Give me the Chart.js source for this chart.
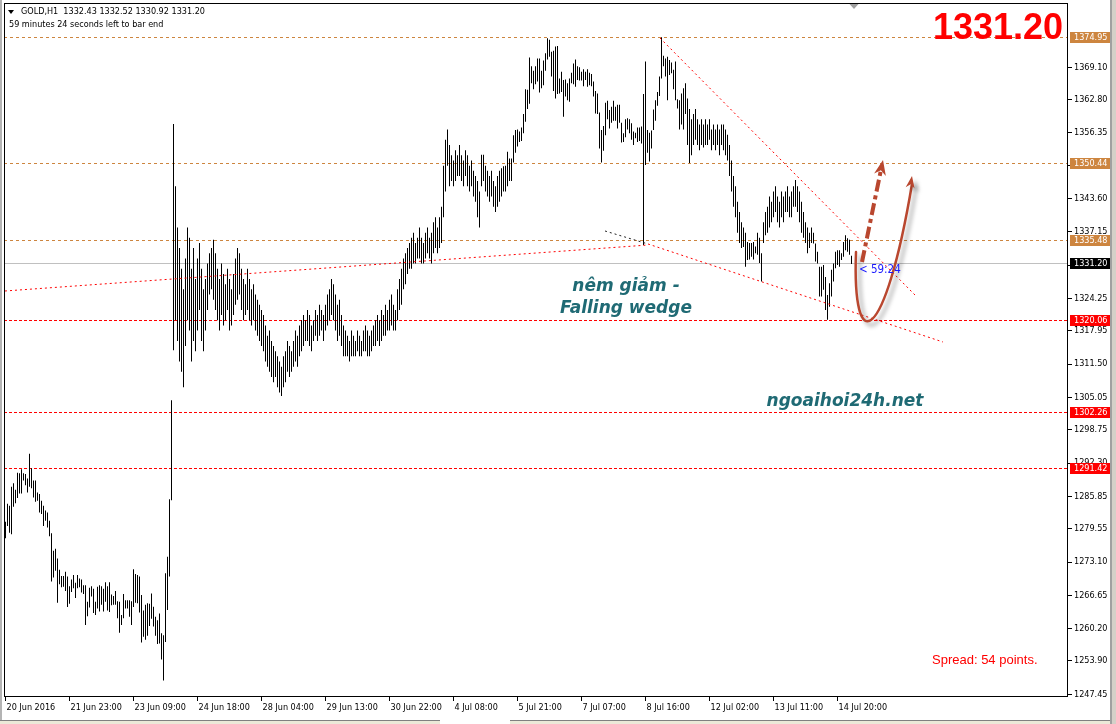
<!DOCTYPE html>
<html>
<head>
<meta charset="utf-8">
<script src="https://cdn.jsdelivr.net/npm/chart.js@4.4.1/dist/chart.umd.min.js"></script>
<style>
html,body{margin:0;padding:0;background:#fff;}
#wrap{position:relative;width:1116px;height:724px;overflow:hidden;background:#fff;}
#c{position:absolute;left:0;top:0;}
.mt{position:absolute;white-space:pre;font-family:"DejaVu Sans Condensed","DejaVu Sans",sans-serif;font-size:9px;line-height:1;color:#000;}
.big{position:absolute;white-space:pre;font-family:"Liberation Sans",Arial,sans-serif;font-weight:bold;font-size:36px;line-height:1;color:#ff0000;}
.note{position:absolute;white-space:pre;font-family:"DejaVu Sans",sans-serif;font-weight:bold;font-style:italic;font-size:17px;line-height:1;color:#1f6a74;text-align:center;width:240px;}
.spread{position:absolute;white-space:pre;font-family:"Liberation Sans",Arial,sans-serif;font-size:13px;line-height:1;color:#ff0000;}
.tri{position:absolute;left:8px;top:10px;width:0;height:0;border-left:3.5px solid transparent;border-right:3.5px solid transparent;border-top:4.5px solid #000;}
.edge{position:absolute;}
</style>
</head>
<body>
<div id="wrap">
<canvas id="c" width="1116" height="724"></canvas>
<div class="tri"></div>
<div class="mt" style="left:21px;top:7px;">GOLD,H1  1332.43 1332.52 1330.92 1331.20</div>
<div class="mt" style="left:9px;top:20px;">59 minutes 24 seconds left to bar end</div>
<div class="big" style="left:933px;top:9px;">1331.20</div>
<div class="note" style="left:506px;top:277px;">nêm giảm -</div>
<div class="note" style="left:506px;top:299px;">Falling wedge</div>
<div class="note" style="left:725px;top:392px;">ngoaihoi24h.net</div>
<div class="mt" style="left:859px;top:264px;font-size:11.5px;color:#1a1aff;">&lt; 59:24</div>
<div class="spread" style="left:932px;top:653px;">Spread: 54 points.</div>
<div class="edge" style="left:0;top:0;width:2px;height:724px;background:#b4b4b4;"></div>
<div class="edge" style="left:1110px;top:0;width:2px;height:724px;background:#a0a0a0;"></div>
<div class="edge" style="left:1112px;top:0;width:4px;height:724px;background:#d4d0c8;"></div>
<div class="edge" style="left:0;top:720px;width:440px;height:4px;background:#ece9d8;border-top:1px solid #808080;"></div>
<div class="edge" style="left:510px;top:720px;width:600px;height:4px;background:#ece9d8;border-top:1px solid #808080;"></div>
</div>
<script>
// x axis labels, one every 32 hourly bars
const xTickLabels = ["20 Jun 2016","21 Jun 23:00","23 Jun 09:00","24 Jun 18:00","28 Jun 04:00","29 Jun 13:00","30 Jun 22:00","4 Jul 08:00","5 Jul 21:00","7 Jul 07:00","8 Jul 16:00","12 Jul 02:00","13 Jul 11:00","14 Jul 20:00"];
const xTickStep = 32;
const yTickValues = [1247.45,1253.90,1260.20,1266.65,1273.10,1279.55,1285.85,1292.30,1298.75,1305.05,1311.50,1317.95,1324.25,1330.70,1337.15,1343.60,1350.05,1356.35,1362.80,1369.10];

// GOLD H1 bars: high / low
const barHighs = [
1280.9,1284.4,1284.0,1287.7,1288.4,1287.1,1290.4,1290.3,1291.1,1290.3,
1290.2,1289.3,1294.1,1291.3,1288.9,1288.9,1286.6,1286.3,1285.0,1284.0,
1283.1,1282.7,1281.1,1278.7,1275.3,1275.7,1273.8,1271.6,1270.4,1270.4,
1271.2,1270.3,1268.4,1269.7,1270.6,1269.1,1270.6,1269.9,1269.7,1268.6,
1268.6,1265.4,1268.1,1268.4,1267.9,1265.4,1268.3,1268.6,1268.4,1267.9,
1269.2,1268.4,1269.2,1266.8,1266.5,1267.5,1265.5,1265.4,1262.8,1266.9,
1265.7,1265.7,1265.7,1265.5,1271.7,1270.8,1270.6,1270.3,1266.7,1263.7,
1264.8,1265.1,1265.0,1267.0,1264.4,1262.5,1261.8,1263.1,1259.3,1258.9,
1270.9,1274.1,1285.3,1304.5,1358.1,1346,1338,1334,1330,1326,
1332,1338,1336,1330,1334,1328,1332,1335,1330,1326,
1328,1331,1333,1334,1335.6,1333,1330,1328,1331,1329,
1327,1330,1328,1326,1329,1332,1334,1333,1330,1328,
1327,1330,1328,1326,1327,1325,1324,1323,1322,1321,
1319,1317,1318,1316,1315,1314,1313,1312,1311,1313,
1314,1316,1315,1314,1316,1318,1317,1319,1320,1321,
1320,1322,1321,1319,1320,1322,1321,1323,1322,1321,
1323,1325,1326,1328,1327,1325,1323,1324,1321,1319,
1318,1317,1316,1318,1317,1316,1318,1317,1316,1318,
1319,1318,1317,1318,1319,1320,1321,1320,1322,1321,
1323,1322,1324,1325,1323,1322,1326,1328,1330,1332,
1333,1334,1335,1336,1337,1335,1336,1338,1336,1335,
1337,1338,1336,1337,1339,1340,1338,1340,1342,1350,
1355,1357,1354,1352,1351,1353,1352,1354,1352,1351,
1353,1352,1350,1351,1349,1348,1347,1345,1352.1,1352.1,
1350,1349,1348,1349,1347,1346,1348,1349,1349.5,1349.9,
1350,1352.7,1351.4,1351.4,1355.9,1356.9,1357.0,1356.6,1357.4,1360.0,
1364.8,1364.7,1371.0,1369.3,1368.4,1369.3,1370.8,1370.8,1368.4,1370.4,
1371.8,1374.7,1374.4,1372.1,1372.3,1373.1,1373.2,1366.9,1368.2,1366.6,
1366.7,1366.0,1366.9,1368.0,1369.8,1370.6,1369.3,1369.1,1368.2,1368.7,
1368.2,1368.7,1368.0,1367.8,1366.3,1364.5,1364.0,1360.3,1356.9,1357.7,
1362.2,1362.6,1360.8,1361.4,1362.6,1361.4,1361.8,1361.8,1358.3,1356.3,
1359.0,1359.2,1359.0,1358.2,1356.6,1356.4,1357.4,1357.4,1357.6,1363.9,
1370.2,1356.9,1356.4,1356.8,1360.9,1362.7,1364.3,1367.3,1374.9,1371.3,
1370.8,1371.1,1370.5,1370.0,1368.6,1370.2,1362.9,1362.7,1364,1365,
1366,1363,1361,1359,1360,1361,1359,1358,1359,1358,
1359,1358,1359,1357,1358,1357,1358,1357,1358,1358,
1357,1356,1354,1351,1348,1346,1343,1341,1339,1338,
1337,1335.2,1335.0,1335.0,1335.2,1334.3,1337,1336,1333.0,1339,
1341,1342,1344,1343,1345,1346,1344,1343,1345,1344,
1345,1346,1344,1345,1346,1347.2,1346,1345,1343,1341,
1339,1338,1337,1338,1337,1334.9,1333.3,1330.4,1330.4,1330.7,
1328.4,1324.9,1327.2,1329.8,1331.0,1333.3,1333.6,1333.6,1333.0,1335.2,
1336.5,1335.9,1335.6,1332.5
];
const barLows = [
1277.7,1280.1,1278.8,1278.5,1283.8,1284.5,1285.5,1286.4,1286.4,1288.9,
1288.0,1286.6,1287.7,1287.4,1285.6,1284.8,1285.0,1282.7,1282.4,1280.1,
1281.1,1279.8,1278.1,1269.3,1270.1,1271.4,1265.2,1268.8,1268.2,1268.3,
1267.5,1264.4,1265.0,1267.3,1268.0,1266.1,1268.0,1268.2,1267.2,1266.9,
1260.9,1262.6,1264.3,1266.4,1263.2,1262.8,1264.1,1263.5,1264.8,1263.5,
1265.4,1263.7,1263.4,1264.7,1264.8,1264.8,1262.2,1259.4,1260.9,1262.2,
1264.1,1264.1,1262.5,1260.9,1264.4,1265.2,1265.1,1263.3,1257.5,1258.6,
1258.0,1258.8,1260.7,1262.1,1260.6,1258.8,1257.2,1257.3,1254.2,1250.1,
1257.6,1263.8,1270.3,1285.1,1314.2,1320,1316,1312,1310,1307,
1315,1320,1318,1312,1316,1314,1318,1322,1316,1314,
1318,1322,1325,1326,1324,1322,1320,1318,1321,1319,
1320,1322,1318,1319,1321,1323,1324,1325,1322,1320,
1321,1322,1320,1319,1320,1318,1317,1316,1315,1314,
1312,1311,1310,1309,1308,1309,1307,1306,1305.3,1307,
1308,1310,1309,1310,1311,1312,1311,1313,1314,1315,
1316,1316,1315,1314,1316,1317,1316,1317,1318,1316,
1318,1319,1320,1321,1320,1318,1316,1317,1315,1313,
1313,1313,1312,1313,1313,1313,1314,1313,1313,1314,
1314,1313,1313,1314,1315,1315,1316,1315,1316,1317,
1317,1318,1318,1319,1318,1318,1320,1322,1323,1326,
1327,1329,1330,1330,1331,1331,1332,1332,1331,1331,
1332,1333,1332,1331,1333,1334,1333,1334,1335,1340,
1345,1350,1346,1347,1346,1347,1348,1348,1347,1346,
1348,1346,1345,1346,1344,1343,1340,1338,1346,1347,
1345,1344,1343,1344,1342,1341,1342,1343,1344,1345,
1345,1346,1347,1347,1350.6,1352.5,1353.7,1354.6,1354.8,1356.3,
1358.5,1361.0,1362.0,1366.0,1364.8,1365.8,1366.3,1364.2,1365.0,1365.6,
1368.4,1370.6,1371.1,1367.3,1364.5,1363.0,1363.9,1364.0,1364.3,1359.5,
1363.4,1362.7,1362.4,1366.0,1365.8,1365.3,1366.6,1366.5,1366.5,1365.4,
1366.6,1365.3,1365.6,1365.4,1363.4,1360.1,1360.0,1353.3,1350.6,1352.9,
1355.9,1359.0,1357.2,1358.3,1358.7,1358.7,1357.2,1358.3,1354.5,1354.6,
1355.5,1357.0,1356.3,1355.0,1354.0,1355.3,1354.6,1354.8,1354.3,1334.6,
1350.1,1352.5,1350.8,1353.3,1356.9,1358.7,1361.6,1363.5,1366.9,1369.3,
1367.3,1362.7,1367.6,1367.9,1364.8,1362.7,1361.1,1357.0,1358,1357,
1360,1354,1350.5,1352,1354,1355,1354,1353,1354,1353.5,
1354,1354,1355,1353,1354,1353,1354,1352,1354,1353,
1352,1351,1348,1345,1342,1340,1337,1335,1334,1334.2,
1330.4,1331.7,1331.8,1332.3,1331.8,1333.0,1332.7,1331.1,1327.5,1335.0,
1336.5,1337,1338,1339,1340,1341,1339,1338,1340,1339,
1341,1341,1340,1340,1342,1342,1341,1339,1337,1336,
1335,1333,1334,1335,1334.9,1331.4,1331.0,1324.6,1324.6,1325.9,
1322.0,1320.1,1322.6,1324.6,1327.5,1330.1,1330.7,1330.4,1331.7,1332.3,
1333.6,1333.3,1332.7,1330.9
];

// horizontal levels drawn on the chart
const resistancePrices = [1374.95,1350.44,1335.48];
const supportPrices = [1320.06,1302.26,1291.42];
const bidPrice = 1331.20;

// trend lines (bar index, price)
const trendFromX = [-0.25, 327.25, 321.25, 299.75];
const trendFromY = [1325.68, 1374.76, 1334.80, 1337.32];
const trendToX = [321.25, 455.75, 468.75, 321.25];
const trendToY = [1334.60, 1324.51, 1315.78, 1334.80];
const trendColors = ['#ff0000', '#ff0000', '#ff0000', '#202020'];

// hand drawn arrows (bar index, price)
const curveX = [425.25, 423.25, 439.75, 453.25];
const curveY = [1333.24, 1312.29, 1315.20, 1347.60];
const dashArrowX = [428.25, 438.75];
const dashArrowY = [1331.30, 1351.09];

const yMin = 1247.11, yMax = 1381.55;
const xMin = -0.75, xMax = 531.25;
const smallFont = {family: "'DejaVu Sans Condensed','DejaVu Sans',sans-serif", size: 9};
const arrowColor = '#b9472f';

const bars = barHighs.map((h, i) => ({x: i, y: [barLows[i], h]}));

const trendSets = trendFromX.map((x0, k) => ({
  type: 'line',
  data: [{x: x0, y: trendFromY[k]}, {x: trendToX[k], y: trendToY[k]}],
  borderColor: trendColors[k],
  borderWidth: 1,
  borderDash: [2, 3],
  pointRadius: 0,
  pointBorderWidth: 0,
  order: 0
}));

function head(ctx, tx, ty, fx, fy, len, wid) {
  const a = Math.atan2(ty - fy, tx - fx);
  ctx.beginPath();
  ctx.moveTo(tx, ty);
  ctx.lineTo(tx - len * Math.cos(a) + wid / 2 * Math.sin(a), ty - len * Math.sin(a) - wid / 2 * Math.cos(a));
  ctx.lineTo(tx - len * 0.7 * Math.cos(a), ty - len * 0.7 * Math.sin(a));
  ctx.lineTo(tx - len * Math.cos(a) - wid / 2 * Math.sin(a), ty - len * Math.sin(a) + wid / 2 * Math.cos(a));
  ctx.closePath();
  ctx.fill();
}

const overlay = {
  id: 'overlay',
  beforeDatasetsDraw(chart) {
    const {ctx, chartArea: a, scales: {y}} = chart;
    ctx.save();
    ctx.lineWidth = 1;
    const hline = (p, col, dash) => {
      const py = Math.round(y.getPixelForValue(p)) + 0.5;
      ctx.strokeStyle = col;
      ctx.setLineDash(dash);
      ctx.beginPath(); ctx.moveTo(a.left, py); ctx.lineTo(a.right, py); ctx.stroke();
    };
    hline(bidPrice, '#c0c0c0', []);
    resistancePrices.forEach(p => hline(p, '#cd853f', [3, 3]));
    supportPrices.forEach(p => hline(p, '#ff0000', [3, 2]));
    ctx.restore();
  },
  afterDatasetsDraw(chart) {
    const {ctx, chartArea: a, scales: {x, y}} = chart;
    ctx.save();
    // curved arrow with shadow
    const cx = curveX.map(v => x.getPixelForValue(v));
    const cy = curveY.map(v => y.getPixelForValue(v));
    ctx.shadowColor = 'rgba(0,0,0,0.35)';
    ctx.shadowBlur = 4; ctx.shadowOffsetX = 4; ctx.shadowOffsetY = 4;
    ctx.strokeStyle = arrowColor; ctx.fillStyle = arrowColor;
    ctx.lineWidth = 2.5; ctx.lineCap = 'round';
    ctx.beginPath();
    ctx.moveTo(cx[0], cy[0]);
    ctx.bezierCurveTo(cx[1], cy[1], cx[2], cy[2], cx[3], cy[3] + 6);
    ctx.stroke();
    head(ctx, cx[3], cy[3] - 2, cx[2], cy[2], 12, 9);
    // dash-dot arrow
    ctx.shadowColor = 'rgba(0,0,0,0)';
    const ax = dashArrowX.map(v => x.getPixelForValue(v));
    const ay = dashArrowY.map(v => y.getPixelForValue(v));
    const ang = Math.atan2(ay[1] - ay[0], ax[1] - ax[0]);
    ctx.lineWidth = 4; ctx.lineCap = 'butt';
    ctx.setLineDash([12, 4, 4, 4]);
    ctx.beginPath();
    ctx.moveTo(ax[0], ay[0]);
    ctx.lineTo(ax[1] - 10 * Math.cos(ang), ay[1] - 10 * Math.sin(ang));
    ctx.stroke();
    ctx.setLineDash([]);
    head(ctx, ax[1], ay[1], ax[0], ay[0], 15, 12);
    ctx.restore();
    // frame
    ctx.save();
    ctx.strokeStyle = '#000'; ctx.lineWidth = 1;
    ctx.strokeRect(a.left + 0.5, a.top + 0.5, a.right - a.left - 1, a.bottom - a.top);
    ctx.restore();
  },
  afterDraw(chart) {
    const {ctx, chartArea: a, scales: {x, y}} = chart;
    ctx.save();
    ctx.font = "9px 'DejaVu Sans Condensed','DejaVu Sans',sans-serif";
    ctx.textBaseline = 'middle';
    const tag = (p, bg) => {
      const py = Math.round(y.getPixelForValue(p));
      ctx.fillStyle = bg;
      ctx.fillRect(a.right + 2, py - 5, 41, 11);
      ctx.fillStyle = '#fff';
      ctx.fillText(p.toFixed(2), a.right + 6, py + 0.5);
    };
    resistancePrices.forEach(p => tag(p, '#cd853f'));
    tag(bidPrice, '#000');
    supportPrices.forEach(p => tag(p, '#ff0000'));
    // chart shift marker
    const sx = Math.round(x.getPixelForValue(barHighs.length));
    ctx.fillStyle = '#a0a0a0';
    ctx.beginPath();
    ctx.moveTo(sx - 4.5, a.top + 1); ctx.lineTo(sx + 4.5, a.top + 1); ctx.lineTo(sx, a.top + 6);
    ctx.closePath(); ctx.fill();
    ctx.restore();
  }
};

new Chart(document.getElementById('c'), {
  type: 'bar',
  data: {
    datasets: [
      {
        type: 'bar',
        data: bars,
        backgroundColor: '#000',
        borderWidth: 0,
        barThickness: 1,
        inflateAmount: 0,
        grouped: false,
        order: 1
      },
      ...trendSets
    ]
  },
  options: {
    responsive: false,
    animation: false,
    devicePixelRatio: 1,
    layout: {padding: {left: 4, top: 3, right: 0, bottom: 0}},
    plugins: {legend: {display: false}, tooltip: {enabled: false}},
    scales: {
      x: {
        type: 'linear',
        min: xMin,
        max: xMax,
        offset: false,
        afterBuildTicks: s => { s.ticks = xTickLabels.map((_, k) => ({value: k * xTickStep})); },
        afterFit: s => { s.height = 28; s.paddingLeft = 0; s.paddingRight = 0; },
        grid: {display: true, drawOnChartArea: false, offset: false, tickLength: 5, color: '#000'},
        border: {display: false},
        ticks: {
          autoSkip: false, maxRotation: 0, align: 'start', padding: 1, labelOffset: 1,
          color: '#000', font: smallFont,
          callback: (v, i) => xTickLabels[i]
        }
      },
      y: {
        type: 'linear',
        position: 'right',
        min: yMin,
        max: yMax,
        afterBuildTicks: s => { s.ticks = yTickValues.map(v => ({value: v})); },
        afterFit: s => { s.width = 48; s.paddingTop = 0; s.paddingBottom = 0; },
        grid: {display: true, drawOnChartArea: false, tickLength: 4, color: '#000'},
        border: {display: false},
        ticks: {padding: 2, color: '#000', font: smallFont, callback: v => v.toFixed(2)}
      }
    }
  },
  plugins: [overlay]
});
</script>
</body>
</html>
